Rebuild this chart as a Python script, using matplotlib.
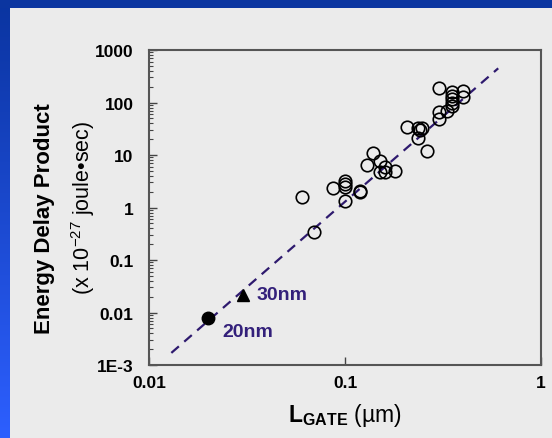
import numpy as np
import matplotlib
matplotlib.use("Agg")
import matplotlib.pyplot as plt
from matplotlib.ticker import FixedLocator, FixedFormatter, LogLocator, NullLocator

plt.rcParams["font.family"] = ["Liberation Sans", "DejaVu Sans"]
plt.rcParams["mathtext.fontset"] = "custom"
plt.rcParams["mathtext.rm"] = "Liberation Sans"
plt.rcParams["mathtext.bf"] = "Liberation Sans:bold"

# ---- data ----
lgate_um = [0.060, 0.0695, 0.087, 0.100, 0.100, 0.100, 0.100, 0.119, 0.119,
            0.139, 0.129, 0.151, 0.151, 0.160, 0.160, 0.180, 0.206, 0.237,
            0.246, 0.242, 0.237, 0.261, 0.300, 0.300, 0.300, 0.330, 0.350,
            0.350, 0.350, 0.350, 0.350, 0.400, 0.400]
edp = [1.6, 0.337, 2.35, 3.2, 2.8, 2.5, 1.35, 2.1, 1.95,
       10.9, 6.5, 7.8, 4.7, 5.8, 4.7, 5.0, 33.7, 33.0,
       33.0, 30.0, 20.8, 11.9, 186.0, 65.0, 48.5, 70.0, 157.0,
       135.0, 117.0, 100.0, 87.0, 168.0, 126.0]

fit_x = [0.013, 0.605]
fit_y = [0.0017, 448.0]

node_20nm = (0.0199, 0.00785)
node_30nm = (0.0303, 0.0218)

ytick_vals = [1e-3, 1e-2, 1e-1, 1, 10, 100, 1000]
ytick_labels = ["1E-3", "0.01", "0.1", "1", "10", "100", "1000"]
xtick_vals = [0.01, 0.1, 1]
xtick_labels = ["0.01", "0.1", "1"]

W, H = 552, 439
fig = plt.figure(figsize=(W / 100, H / 100), dpi=100)
fig.patch.set_facecolor("#ebebeb")

# ---- blue slide frame (left gradient strip + top strip) ----
bg = fig.add_axes([0, 0, 10 / W, 1], zorder=-10)
top_c = np.array([10, 52, 160]) / 255
bot_c = np.array([45, 95, 255]) / 255
t = np.linspace(0, 1, 256)[:, None]
grad = (top_c * (1 - t) + bot_c * t)[:, None, :]
bg.imshow(grad, aspect="auto", extent=[0, 1, 0, 1], origin="upper")
bg.axis("off")
topbar = fig.add_axes([0, 1 - 9 / H, 1, 9 / H], zorder=-9)
topbar.set_facecolor("#0b35a0")
topbar.set_xticks([]); topbar.set_yticks([])
for s in topbar.spines.values():
    s.set_visible(False)

# ---- main plot ----
ax = fig.add_axes([149 / W, 1 - 366 / H, (541 - 149) / W, (366 - 51) / H])
ax.set_facecolor("#ebebeb")
ax.set_xscale("log"); ax.set_yscale("log")
ax.set_xlim(0.01, 1); ax.set_ylim(1e-3, 1000)

purple = "#2e1a6e"
text_purple = "#33207a"
ax.plot(fit_x, fit_y, color=purple, lw=1.6, ls=(0, (4.5, 3.2)), zorder=2)
ax.plot(lgate_um, edp, ls="none", marker="o", ms=9, mfc="none", mec="black",
        mew=1.2, zorder=3)
ax.plot(*node_20nm, marker="o", ms=9, color="black", zorder=4)
ax.plot(*node_30nm, marker="^", ms=9, color="black", zorder=4)

ax.text(0.0355, node_30nm[1], "30nm", color=text_purple, fontsize=14,
        fontweight="bold", va="center", ha="left")
ax.text(0.0237, node_20nm[1] * 0.56, "20nm", color=text_purple, fontsize=14,
        fontweight="bold", va="center", ha="left")

ax.yaxis.set_major_locator(FixedLocator(ytick_vals))
ax.yaxis.set_major_formatter(FixedFormatter(ytick_labels))
ax.yaxis.set_minor_locator(LogLocator(base=10, subs=np.arange(2, 10), numticks=20))
ax.xaxis.set_major_locator(FixedLocator(xtick_vals))
ax.xaxis.set_major_formatter(FixedFormatter(xtick_labels))
ax.xaxis.set_minor_locator(NullLocator())

ax.tick_params(axis="both", which="major", direction="in", length=6, width=1,
               color="#444444", labelsize=12.5)
ax.tick_params(axis="y", which="minor", direction="in", length=3, width=0.8,
               color="#444444")
ax.tick_params(axis="y", pad=11)
ax.tick_params(axis="x", pad=7)
for lab in ax.get_xticklabels() + ax.get_yticklabels():
    lab.set_fontweight("bold")
for s in ax.spines.values():
    s.set_color("#555555")
    s.set_linewidth(1.5)

# axis titles
ax.set_xlabel(r"$\mathbf{L}_{\mathbf{GATE}}$ (µm)", fontsize=16.5, labelpad=8)
fig.text(45 / W, 1 - 219 / H, "Energy Delay Product", rotation=90,
         fontsize=16, fontweight="bold", ha="center", va="center")
fig.text(83 / W, 1 - 208 / H, r"(x 10$^{\mathregular{-27}}$ joule•sec)",
         rotation=90, fontsize=15.5, ha="center", va="center")

fig.savefig("out.png", dpi=100, facecolor=fig.get_facecolor())
